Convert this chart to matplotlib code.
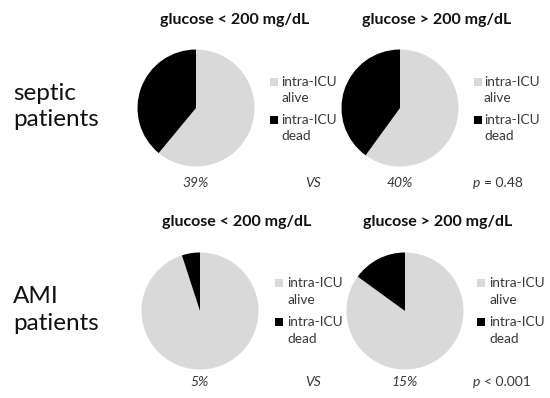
import matplotlib
matplotlib.use("Agg")
import matplotlib.pyplot as plt
from matplotlib.patches import Rectangle

# data
row_labels = ["septic\npatients", "AMI\npatients"]
group_titles = ["glucose < 200 mg/dL", "glucose > 200 mg/dL"]
legend_labels = ["intra-ICU\nalive", "intra-ICU\ndead"]
alive_pct = [[61, 60], [95, 85]]
dead_pct = [[39, 40], [5, 15]]
pct_labels = [["39%", "40%"], ["5%", "15%"]]
p_values = ["= 0.48", "< 0.001"]
colors = ["#d9d9d9", "#000000"]

plt.rcParams["font.family"] = ["Lato", "DejaVu Sans"]

W, H = 550, 398
fig = plt.figure(figsize=(W / 100, H / 100), dpi=100)
fig.patch.set_facecolor("white")

def fx(x):
    return x / W

def fy(y):
    return 1 - y / H

# layout in pixels (from top-left)
pie_cx = [[196, 400], [200, 405]]
pie_cy = [108, 311]
R = 58.5
title_cx = [[235, 437], [237, 438]]
title_y = [20, 222]
row_label_y = [[90, 123], [297, 323]]
leg_x = [[270, 474], [275, 477]]
leg_text_x = [[281, 484], [287, 489]]
leg_y = [[82, 120], [283, 322]]
line_gap = [16, 17]
pct_y = [183, 382]
vs_x = 313
p_x = 473

txt_gray = "#383838"

for r in range(2):
    fig.text(fx(13), fy((row_label_y[r][0] + row_label_y[r][1]) / 2), row_labels[r],
             fontsize=17.5, ha="left", va="center", linespacing=1.3, color="#111111")
    for c in range(2):
        fig.text(fx(title_cx[r][c]), fy(title_y[r]), group_titles[c],
                 fontsize=11.5, fontweight="bold", ha="center", va="center", color="#111111")
        ax = fig.add_axes([fx(pie_cx[r][c] - R), fy(pie_cy[r] + R), 2 * R / W, 2 * R / H])
        ax.pie([alive_pct[r][c], dead_pct[r][c]], colors=colors, startangle=90,
               counterclock=False, radius=1, wedgeprops=dict(linewidth=0))
        ax.set_xlim(-1.0, 1.0)
        ax.set_ylim(-1.0, 1.0)
        ax.set_aspect("equal")
        ax.axis("off")

        # legend drawn by hand so the square lines up with the first text line
        for i, lab in enumerate(legend_labels):
            sq = 8
            fig.patches.append(Rectangle((fx(leg_x[r][c]), fy(leg_y[r][i] + sq / 2)), sq / W, sq / H,
                                         transform=fig.transFigure, facecolor=colors[i],
                                         edgecolor="none", figure=fig))
            top, bottom = lab.split("\n")
            fig.text(fx(leg_text_x[r][c]), fy(leg_y[r][i]), top, fontsize=9.8,
                     ha="left", va="center", color=txt_gray)
            fig.text(fx(leg_text_x[r][c]), fy(leg_y[r][i] + line_gap[r]), bottom, fontsize=9.8,
                     ha="left", va="center", color=txt_gray)

        fig.text(fx(pie_cx[r][c]), fy(pct_y[r]), pct_labels[r][c], fontsize=10,
                 style="italic", ha="center", va="center", color=txt_gray)

    fig.text(fx(vs_x), fy(pct_y[r]), "VS", fontsize=10, style="italic",
             ha="center", va="center", color=txt_gray)
    fig.text(fx(p_x), fy(pct_y[r]), "p", fontsize=10, style="italic",
             ha="left", va="center", color=txt_gray)
    fig.text(fx(p_x + 11), fy(pct_y[r]), p_values[r], fontsize=10,
             ha="left", va="center", color=txt_gray)

fig.savefig("out.png", dpi=100)
